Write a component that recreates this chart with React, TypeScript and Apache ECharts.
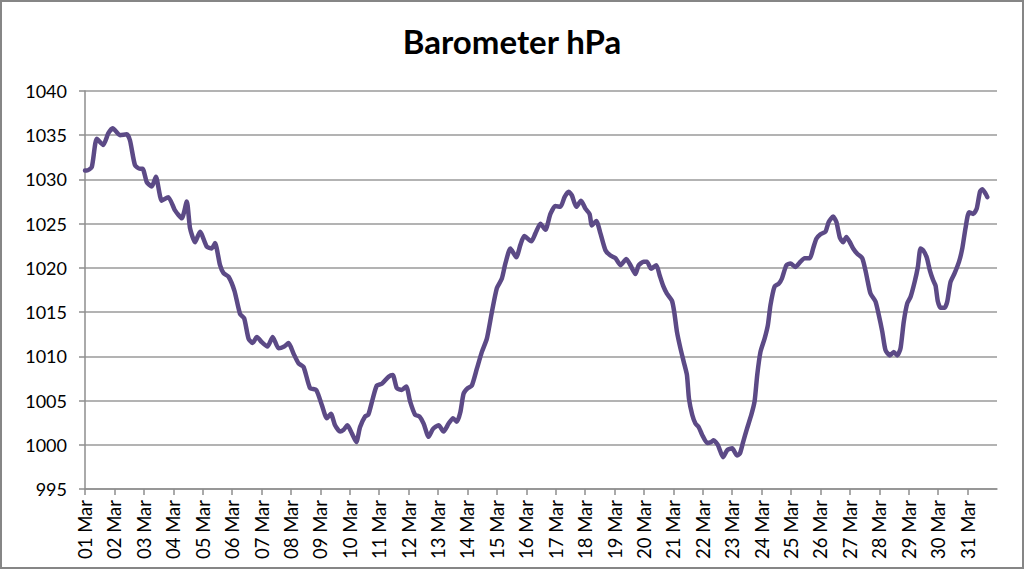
import React, { useEffect, useRef } from "react";
import * as echarts from "echarts";

const chartTitle = "Barometer hPa";

const dayLabels = [
  "01 Mar", "02 Mar", "03 Mar", "04 Mar", "05 Mar", "06 Mar", "07 Mar", "08 Mar",
  "09 Mar", "10 Mar", "11 Mar", "12 Mar", "13 Mar", "14 Mar", "15 Mar", "16 Mar",
  "17 Mar", "18 Mar", "19 Mar", "20 Mar", "21 Mar", "22 Mar", "23 Mar", "24 Mar",
  "25 Mar", "26 Mar", "27 Mar", "28 Mar", "29 Mar", "30 Mar", "31 Mar",
];

// time in days since 01 Mar 00:00
const dayOffsets = [
  0.0, 0.06, 0.23, 0.4, 0.62, 0.79, 0.94, 1.19, 1.42, 1.53, 1.7, 1.87, 1.96, 2.1, 2.27, 2.41,
  2.61, 2.83, 3.06, 3.29, 3.46, 3.57, 3.74, 3.91, 4.14, 4.31, 4.42, 4.59, 4.71, 4.88, 5.08,
  5.27, 5.41, 5.56, 5.7, 5.84, 6.01, 6.2, 6.38, 6.58, 6.77, 6.92, 7.09, 7.26, 7.43, 7.65,
  7.86, 8.05, 8.22, 8.36, 8.5, 8.67, 8.79, 8.92, 9.07, 9.22, 9.35, 9.52, 9.63, 9.78, 9.92,
  10.09, 10.32, 10.46, 10.6, 10.77, 10.92, 11.05, 11.22, 11.37, 11.51, 11.68, 11.83, 12.02,
  12.19, 12.36, 12.51, 12.64, 12.76, 12.87, 13.01, 13.15, 13.32, 13.49, 13.66, 13.83, 14.0,
  14.17, 14.29, 14.46, 14.66, 14.8, 14.93, 15.17, 15.31, 15.48, 15.65, 15.82, 15.99, 16.16,
  16.3, 16.44, 16.55, 16.7, 16.86, 17.01, 17.15, 17.23, 17.38, 17.52, 17.69, 17.86, 18.03,
  18.2, 18.4, 18.54, 18.71, 18.82, 18.99, 19.1, 19.24, 19.42, 19.53, 19.65, 19.78, 19.95,
  20.03, 20.12, 20.24, 20.35, 20.46, 20.53, 20.64, 20.75, 20.86, 20.98, 21.15, 21.28, 21.37,
  21.51, 21.69, 21.83, 22.0, 22.16, 22.26, 22.37, 22.5, 22.65, 22.76, 22.85, 22.96, 23.1,
  23.21, 23.3, 23.44, 23.58, 23.69, 23.84, 23.98, 24.15, 24.32, 24.46, 24.64, 24.75, 24.86,
  25.0, 25.17, 25.28, 25.43, 25.54, 25.66, 25.77, 25.88, 26.0, 26.11, 26.25, 26.42, 26.53,
  26.61, 26.7, 26.87, 26.98, 27.1, 27.21, 27.36, 27.49, 27.61, 27.72, 27.83, 27.95, 28.06,
  28.2, 28.31, 28.4, 28.49, 28.61, 28.72, 28.83, 28.91, 28.99, 29.08, 29.22, 29.31, 29.42,
  29.56, 29.71, 29.82, 29.93, 30.05, 30.19, 30.31, 30.42, 30.5, 30.61, 30.67,
];

const pressureHpa = [
  1031.0, 1031.0, 1031.4, 1034.6, 1033.9, 1035.2, 1035.8, 1035.0, 1035.1, 1034.4, 1031.6, 1031.2,
  1031.2, 1029.7, 1029.2, 1030.3, 1027.6, 1028.0, 1026.5, 1025.6, 1027.5, 1024.5, 1022.9, 1024.1,
  1022.4, 1022.2, 1022.8, 1020.3, 1019.4, 1019.0, 1017.4, 1014.8, 1014.3, 1012.0, 1011.5, 1012.2,
  1011.6, 1011.1, 1012.2, 1010.9, 1011.1, 1011.5, 1010.3, 1009.2, 1008.8, 1006.4, 1006.2, 1004.5,
  1003.0, 1003.5, 1002.2, 1001.5, 1001.7, 1002.2, 1001.3, 1000.3, 1002.0, 1003.2, 1003.4, 1005.2,
  1006.7, 1006.9, 1007.7, 1007.9, 1006.4, 1006.2, 1006.6, 1004.9, 1003.4, 1003.2, 1002.4, 1000.9,
  1001.8, 1002.2, 1001.5, 1002.4, 1003.0, 1002.6, 1003.7, 1005.8, 1006.4, 1006.7, 1008.6, 1010.5,
  1012.0, 1015.0, 1017.7, 1018.8, 1020.5, 1022.2, 1021.2, 1022.6, 1023.6, 1023.0, 1023.9, 1025.0,
  1024.3, 1026.1, 1027.0, 1026.9, 1028.0, 1028.6, 1028.2, 1026.9, 1027.6, 1026.7, 1026.1, 1024.8,
  1025.3, 1023.9, 1022.0, 1021.4, 1021.1, 1020.3, 1021.0, 1020.3, 1019.3, 1020.3, 1020.7, 1020.7,
  1019.9, 1020.3, 1019.2, 1018.0, 1017.1, 1016.3, 1015.0, 1012.8, 1010.9, 1009.4, 1007.9, 1005.2,
  1003.4, 1002.4, 1002.0, 1001.1, 1000.2, 1000.3, 1000.5, 1000.0, 998.6, 999.4, 999.6, 998.8,
  999.0, 1000.3, 1001.8, 1003.4, 1004.9, 1007.9, 1010.5, 1012.0, 1013.5, 1015.8, 1017.9, 1018.2,
  1018.8, 1020.3, 1020.5, 1020.1, 1020.7, 1021.1, 1021.1, 1022.2, 1023.3, 1023.8, 1024.1, 1025.2,
  1025.8, 1025.2, 1023.4, 1022.9, 1023.5, 1022.9, 1022.2, 1021.6, 1021.1, 1019.7, 1018.4, 1017.1,
  1016.2, 1014.7, 1012.8, 1010.7, 1010.1, 1010.5, 1010.1, 1010.9, 1013.9, 1016.0, 1016.7, 1018.4,
  1020.1, 1022.2, 1022.0, 1021.2, 1019.7, 1018.6, 1018.0, 1016.2, 1015.5, 1015.5, 1016.2, 1018.4,
  1019.4, 1020.7, 1022.2, 1024.5, 1026.3, 1026.1, 1026.7, 1028.6, 1028.9, 1028.4, 1028.0,
];

const yTicks = { min: 995, max: 1040, step: 5 };

export default function App() {
  const ref = useRef<HTMLDivElement>(null);

  useEffect(() => {
    if (!ref.current) return;
    const chart = echarts.init(ref.current, null, { renderer: "svg" });
    const font = "Lato, 'Open Sans', sans-serif";
    const gray = "#8e8e8e";
    chart.setOption({
      animation: false,
      backgroundColor: "#ffffff",
      title: {
        text: chartTitle,
        left: "center",
        top: 19,
        textStyle: { fontSize: 33, fontWeight: "bold", fontFamily: font, color: "#000" },
      },
      grid: { left: 85, right: 27, top: 91, bottom: 80, containLabel: false, outerBoundsMode: "none" },
      xAxis: {
        type: "value",
        min: 0,
        max: dayLabels.length,
        interval: 1,
        axisLine: { show: true, lineStyle: { color: gray, width: 1.5 } },
        axisTick: { show: true, length: 6, lineStyle: { color: gray, width: 1.5 } },
        splitLine: { show: false },
        axisLabel: {
          rotate: 90,
          margin: 11,
          fontSize: 18.5,
          fontFamily: font,
          color: "#000",
          showMaxLabel: false,
          formatter: (v: number) => dayLabels[Math.round(v)] ?? "",
        },
      },
      yAxis: {
        type: "value",
        min: yTicks.min,
        max: yTicks.max,
        interval: yTicks.step,
        axisLine: { show: true, lineStyle: { color: gray, width: 1.5 } },
        axisTick: { show: true, length: 6, lineStyle: { color: gray, width: 1.5 } },
        splitLine: { show: true, lineStyle: { color: "#9a9a9a", width: 1.5 } },
        axisLabel: {
          margin: 18,
          fontSize: 18,
          fontFamily: font,
          color: "#000",
          formatter: (v: number) => String(v),
        },
      },
      series: [
        {
          type: "line",
          data: dayOffsets.map((t, i) => [t, pressureHpa[i]]),
          showSymbol: false,
          smooth: 0.2,
          lineStyle: { color: "#5c4a86", width: 4.5, cap: "round", join: "round" },
        },
      ],
      graphic: [
        {
          type: "rect",
          shape: { x: 1, y: 1, width: 1022, height: 567 },
          style: { fill: "none", stroke: "#868686", lineWidth: 2 },
          silent: true,
        },
      ],
    });
    return () => chart.dispose();
  }, []);

  return (
    <div
      ref={ref}
      style={{ position: "fixed", left: 0, top: 0, width: 1024, height: 569 }}
    />
  );
}
